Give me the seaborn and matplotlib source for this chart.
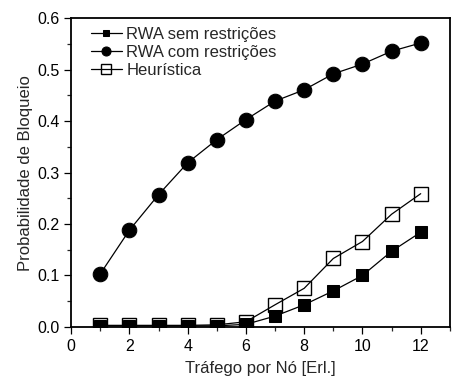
import matplotlib
matplotlib.use("Agg")
import matplotlib.pyplot as plt
import seaborn as sns
import pandas as pd
from matplotlib.ticker import MultipleLocator

sns.set_style("ticks")
plt.rcParams['font.family'] = ['Liberation Sans', 'DejaVu Sans']

trafego = [1, 2, 3, 4, 5, 6, 7, 8, 9, 10, 11, 12]
rwa_sem = [0.002, 0.002, 0.002, 0.002, 0.002, 0.005, 0.021, 0.043, 0.070, 0.100, 0.147, 0.184]
rwa_com = [0.103, 0.188, 0.257, 0.319, 0.364, 0.403, 0.439, 0.461, 0.492, 0.511, 0.536, 0.552]
heuristica = [0.003, 0.003, 0.003, 0.003, 0.004, 0.010, 0.043, 0.075, 0.133, 0.166, 0.219, 0.259]
labels = ["RWA sem restrições", "RWA com restrições", "Heurística"]

fig = plt.figure(figsize=(4.53, 3.81), dpi=100)
ax = fig.add_axes([0.157, 0.142, 0.836, 0.810])

series = [
    (heuristica, labels[2], dict(marker='s', markersize=10.5, markerfacecolor='none', markeredgecolor='black', markeredgewidth=1.0)),
    (rwa_sem, labels[0], dict(marker='s', markersize=8, markerfacecolor='black', markeredgecolor='black')),
    (rwa_com, labels[1], dict(marker='o', markersize=10.5, markerfacecolor='black', markeredgecolor='black')),
]
for vals, lab, kw in series:
    df = pd.DataFrame({"x": trafego, "y": vals})
    sns.lineplot(data=df, x="x", y="y", ax=ax, color='black', linewidth=0.9, label=lab, **kw)

h, l = ax.get_legend_handles_labels()
order = [l.index(s) for s in labels]
leg = ax.legend([h[i] for i in order], [l[i] for i in order], loc='upper left', frameon=False,
                fontsize=12, handlelength=1.9, borderaxespad=0.2, labelspacing=0.18,
                handletextpad=0.25, markerscale=0.62, bbox_to_anchor=(0.025, 1.005))

ax.set_xlim(0, 13)
ax.set_ylim(0, 0.6)
ax.xaxis.set_minor_locator(MultipleLocator(1))
ax.yaxis.set_minor_locator(MultipleLocator(0.05))
ax.set_xticks([0, 2, 4, 6, 8, 10, 12])
ax.set_xticklabels(["0", "2", "4", "6", "8", "10", "12"])
ax.set_yticks([0.0, 0.1, 0.2, 0.3, 0.4, 0.5, 0.6])
ax.set_yticklabels(["0.0", "0.1", "0.2", "0.3", "0.4", "0.5", "0.6"])
ax.tick_params(which='major', direction='out', length=5, width=0.9, labelsize=11.5, colors='black')
ax.tick_params(which='minor', direction='out', length=3, width=0.9)
for name in ['top', 'right', 'left', 'bottom']:
    ax.spines[name].set_visible(True)
    ax.spines[name].set_linewidth(1.3)
    ax.spines[name].set_edgecolor('black')
ax.set_xlabel("Tráfego por Nó [Erl.]", fontsize=12, labelpad=5)
ax.set_ylabel("Probabilidade de Bloqueio", fontsize=12, labelpad=3)

fig.savefig("out.png", dpi=100)
